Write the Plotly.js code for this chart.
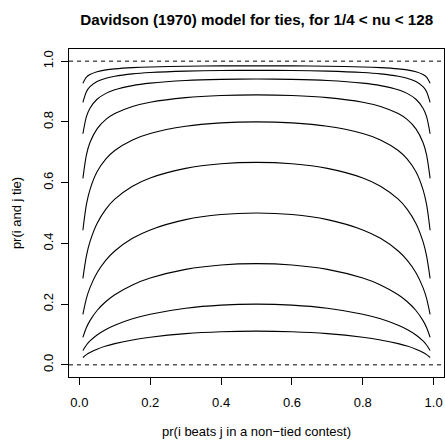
<!DOCTYPE html>
<html><head><meta charset="utf-8">
<script src="https://cdn.plot.ly/plotly-3.0.1.min.js"></script>
<style>html,body{margin:0;padding:0;background:#fff}#plot{width:445px;height:441px}</style>
</head><body><div id="plot"></div>
<script>
// pr(i beats j in a non-tied contest)
var pWin = [0.01,0.02,0.03,0.05,0.075,0.1,0.15,0.2,0.3,0.4,0.5,0.6,0.7,0.8,0.85,0.9,0.925,0.95,0.97,0.98,0.99];
// pr(i and j tie), one curve per nu
var tieNu0_25 = [0.0243,0.0338,0.0409,0.0517,0.0618,0.0698,0.0820,0.0909,0.1028,0.1091,0.1111,0.1091,0.1028,0.0909,0.0820,0.0698,0.0618,0.0517,0.0409,0.0338,0.0243];
var tieNu0_5  = [0.0474,0.0654,0.0786,0.0983,0.1164,0.1304,0.1515,0.1667,0.1864,0.1967,0.2000,0.1967,0.1864,0.1667,0.1515,0.1304,0.1164,0.0983,0.0786,0.0654,0.0474];
var tieNu1    = [0.0905,0.1228,0.1457,0.1789,0.2085,0.2308,0.2631,0.2857,0.3143,0.3288,0.3333,0.3288,0.3143,0.2857,0.2631,0.2308,0.2085,0.1789,0.1457,0.1228,0.0905];
var tieNu2    = [0.1660,0.2188,0.2544,0.3035,0.3450,0.3750,0.4166,0.4444,0.4782,0.4949,0.5000,0.4949,0.4782,0.4444,0.4166,0.3750,0.3450,0.3035,0.2544,0.2188,0.1660];
var tieNu4    = [0.2847,0.3590,0.4056,0.4657,0.5130,0.5455,0.5882,0.6154,0.6470,0.6621,0.6667,0.6621,0.6470,0.6154,0.5882,0.5455,0.5130,0.4657,0.4056,0.3590,0.2847];
var tieNu8    = [0.4432,0.5283,0.5771,0.6355,0.6782,0.7059,0.7407,0.7619,0.7857,0.7967,0.8000,0.7967,0.7857,0.7619,0.7407,0.7059,0.6782,0.6355,0.5771,0.5283,0.4432];
var tieNu16   = [0.6142,0.6914,0.7319,0.7771,0.8082,0.8276,0.8510,0.8649,0.8800,0.8869,0.8889,0.8869,0.8800,0.8649,0.8510,0.8276,0.8082,0.7771,0.7319,0.6914,0.6142];
var tieNu32   = [0.7610,0.8175,0.8452,0.8746,0.8939,0.9057,0.9195,0.9275,0.9362,0.9400,0.9412,0.9400,0.9362,0.9275,0.9195,0.9057,0.8939,0.8746,0.8452,0.8175,0.7610];
var tieNu64   = [0.8643,0.8996,0.9161,0.9331,0.9440,0.9505,0.9581,0.9624,0.9670,0.9691,0.9697,0.9691,0.9670,0.9624,0.9581,0.9505,0.9440,0.9331,0.9161,0.8996,0.8643];
var tieNu128  = [0.9272,0.9471,0.9562,0.9654,0.9712,0.9746,0.9786,0.9809,0.9832,0.9843,0.9846,0.9843,0.9832,0.9809,0.9786,0.9746,0.9712,0.9654,0.9562,0.9471,0.9272];
var refLines = [0, 1];
var xTicks = [0, 0.2, 0.4, 0.6, 0.8, 1.0];
var xTickText = ["0.0","0.2","0.4","0.6","0.8","1.0"];
var yTicks = [0, 0.2, 0.4, 0.6, 0.8, 1.0];
var yTickText = ["0.0","0.2","0.4","0.6","0.8","1.0"];

var curves = [tieNu0_25, tieNu0_5, tieNu1, tieNu2, tieNu4, tieNu8, tieNu16, tieNu32, tieNu64, tieNu128];
var traces = curves.map(function(ys){
  return {x: pWin, y: ys, type:'scatter', mode:'lines', line:{color:'#000', width:1.1, shape:'spline', smoothing:0.8}, hoverinfo:'skip', showlegend:false};
});
var shapes = refLines.map(function(v){
  return {type:'line', xref:'paper', x0:0, x1:1, yref:'y', y0:v, y1:v, line:{color:'#000', width:1, dash:'4px,4px'}};
});
var fam = '"Liberation Sans", Arial, sans-serif';
var layout = {
  width:445, height:441,
  margin:{l:69, r:1, t:49, b:64, pad:0},
  paper_bgcolor:'#fff', plot_bgcolor:'#fff',
  font: {family:fam, color:'#000', size:13},
  showlegend:false,
  title:{text:'<b>Davidson (1970) model for ties, for 1/4 < nu < 128</b>', font:{family:fam, size:15.2, color:'#000'}, x:0.577, xanchor:'center', y:0.955, yanchor:'middle'},
  xaxis:{range:[-0.0292,1.0292], tickvals:xTicks, ticktext:xTickText, ticks:'outside', ticklen:7, tickwidth:1, tickcolor:'#000',
    ticklabelstandoff:6,
    showline:true, linecolor:'#000', linewidth:1, mirror:true, showgrid:false, zeroline:false,
    tickfont:{family:fam, size:13, color:'#000'},
    title:{text:'pr(i beats j in a non\u2212tied contest)', font:{family:fam, size:13, color:'#000'}, standoff:18}},
  yaxis:{range:[-0.04,1.04], tickvals:yTicks, ticktext:yTickText, ticks:'outside', ticklen:7, tickwidth:1, tickcolor:'#000', tickangle:-90,
    ticklabelstandoff:3,
    showline:true, linecolor:'#000', linewidth:1, mirror:true, showgrid:false, zeroline:false,
    tickfont:{family:fam, size:13, color:'#000'},
    title:{text:'pr(i and j tie)', font:{family:fam, size:13, color:'#000'}, standoff:16}},
  shapes: shapes
};
Plotly.newPlot('plot', traces, layout, {staticPlot:true, displayModeBar:false});
</script></body></html>
